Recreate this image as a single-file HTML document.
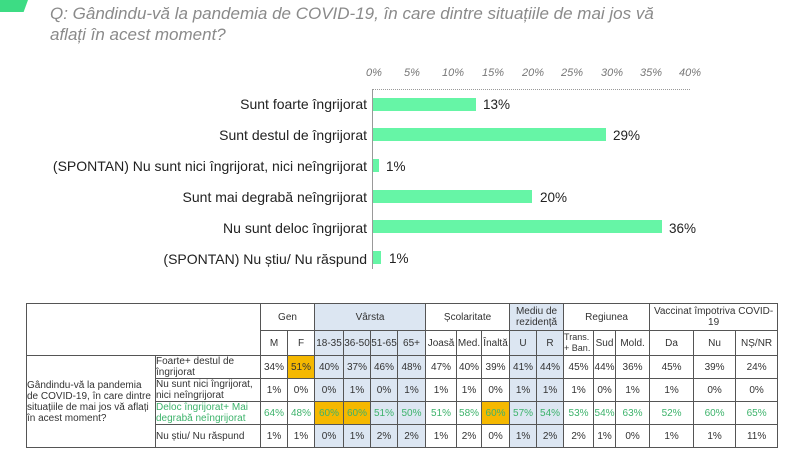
<!DOCTYPE html>
<html><head><meta charset="utf-8"><style>
body{margin:0;width:800px;height:460px;background:#fff;position:relative;overflow:hidden;font-family:"Liberation Sans",sans-serif}
.t{position:absolute;left:50px;top:3px;font-style:italic;color:#8a8a8a;font-size:17px;line-height:21px;width:720px}
.lab{position:absolute;right:433px;font-size:14px;color:#222;white-space:nowrap}
.bar{position:absolute;left:373px;height:13px;background:#66f5a6}
.val{position:absolute;font-size:13.5px;color:#222}
.tk{position:absolute;top:67px;font-size:11px;font-style:italic;color:#777}
table{position:absolute;left:26px;top:303px;width:751px;border-collapse:collapse;font-size:10px;color:#333;table-layout:fixed}
td{border:1px solid #555;text-align:center;padding:0;height:22px;line-height:11px;overflow:hidden}
.b{background:#dce6f2}.o{background:#f5b800}.g{color:#3db36b}
.l{text-align:left}
</style></head><body>
<div style="position:absolute;left:0;top:0;width:28px;height:12px;background:#3ddc84;transform:skewX(-20deg);transform-origin:0 0"></div>
<div class="t">Q: Gândindu-vă la pandemia de COVID-19, în care dintre situațiile de mai jos vă<br>aflați în acest moment?</div>
<div class="tk" style="left:366px">0%</div><div class="tk" style="left:404px">5%</div><div class="tk" style="left:442px">10%</div><div class="tk" style="left:482px">15%</div><div class="tk" style="left:522px">20%</div><div class="tk" style="left:561px">25%</div><div class="tk" style="left:601px">30%</div><div class="tk" style="left:640px">35%</div><div class="tk" style="left:679px">40%</div>
<div style="position:absolute;left:372px;top:89px;width:318px;border-top:1px dotted #999"></div>
<div style="position:absolute;left:372px;top:89px;height:180px;border-left:1px solid #999"></div>
<div class="lab" style="top:96px">Sunt foarte îngrijorat</div><div class="bar" style="top:98px;width:103px"></div><div class="val" style="left:483px;top:97px">13%</div>
<div class="lab" style="top:127px">Sunt destul de îngrijorat</div><div class="bar" style="top:128px;width:233px"></div><div class="val" style="left:613px;top:128px">29%</div>
<div class="lab" style="top:158px">(SPONTAN) Nu sunt nici îngrijorat, nici neîngrijorat</div><div class="bar" style="top:159px;width:6px"></div><div class="val" style="left:386px;top:159px">1%</div>
<div class="lab" style="top:189px">Sunt mai degrabă neîngrijorat</div><div class="bar" style="top:190px;width:159px"></div><div class="val" style="left:540px;top:190px">20%</div>
<div class="lab" style="top:220px">Nu sunt deloc îngrijorat</div><div class="bar" style="top:220px;width:289px"></div><div class="val" style="left:669px;top:221px">36%</div>
<div class="lab" style="top:251px">(SPONTAN) Nu știu/ Nu răspund</div><div class="bar" style="top:251px;width:8px"></div><div class="val" style="left:389px;top:251px">1%</div>
<table>
<colgroup><col style="width:129px"><col style="width:105px"><col style="width:27px"><col style="width:27px"><col style="width:29px"><col style="width:27px"><col style="width:27px"><col style="width:28px"><col style="width:31px"><col style="width:25px"><col style="width:28px"><col style="width:27px"><col style="width:27px"><col style="width:30px"><col style="width:22px"><col style="width:34px"><col style="width:44px"><col style="width:42px"><col style="width:42px"></colgroup>
<tr style="height:27px"><td colspan="2" rowspan="2"></td><td colspan="2">Gen</td><td colspan="4" class="b">Vârsta</td><td colspan="3">Școlaritate</td><td colspan="2" class="b">Mediu de rezidență</td><td colspan="3">Regiunea</td><td colspan="3">Vaccinat împotriva COVID-19</td></tr>
<tr style="height:25px"><td>M</td><td>F</td><td class="b">18-35</td><td class="b">36-50</td><td class="b">51-65</td><td class="b">65+</td><td>Joasă</td><td>Med.</td><td>Înaltă</td><td class="b">U</td><td class="b">R</td><td style="font-size:9px;text-align:left">Trans. + Ban.</td><td>Sud</td><td>Mold.</td><td>Da</td><td>Nu</td><td>NȘ/NR</td></tr>
<tr><td rowspan="4" class="l">Gândindu-vă la pandemia de COVID-19, în care dintre situațiile de mai jos vă aflați în acest moment?</td><td class="l">Foarte+ destul de îngrijorat</td><td>34%</td><td class="o">51%</td><td class="b">40%</td><td class="b">37%</td><td class="b">46%</td><td class="b">48%</td><td>47%</td><td>40%</td><td>39%</td><td class="b">41%</td><td class="b">44%</td><td>45%</td><td>44%</td><td>36%</td><td>45%</td><td>39%</td><td>24%</td></tr>
<tr><td class="l">Nu sunt nici îngrijorat, nici neîngrijorat</td><td>1%</td><td>0%</td><td class="b">0%</td><td class="b">1%</td><td class="b">0%</td><td class="b">1%</td><td>1%</td><td>1%</td><td>0%</td><td class="b">1%</td><td class="b">1%</td><td>1%</td><td>0%</td><td>1%</td><td>1%</td><td>0%</td><td>0%</td></tr>
<tr class="g"><td class="l">Deloc îngrijorat+ Mai degrabă neîngrijorat</td><td>64%</td><td>48%</td><td class="o">60%</td><td class="o">60%</td><td class="b">51%</td><td class="b">50%</td><td>51%</td><td>58%</td><td class="o">60%</td><td class="b">57%</td><td class="b">54%</td><td>53%</td><td>54%</td><td>63%</td><td>52%</td><td>60%</td><td>65%</td></tr>
<tr><td class="l">Nu știu/ Nu răspund</td><td>1%</td><td>1%</td><td class="b">0%</td><td class="b">1%</td><td class="b">2%</td><td class="b">2%</td><td>1%</td><td>2%</td><td>0%</td><td class="b">1%</td><td class="b">2%</td><td>2%</td><td>1%</td><td>0%</td><td>1%</td><td>1%</td><td>11%</td></tr>
</table>
</body></html>
